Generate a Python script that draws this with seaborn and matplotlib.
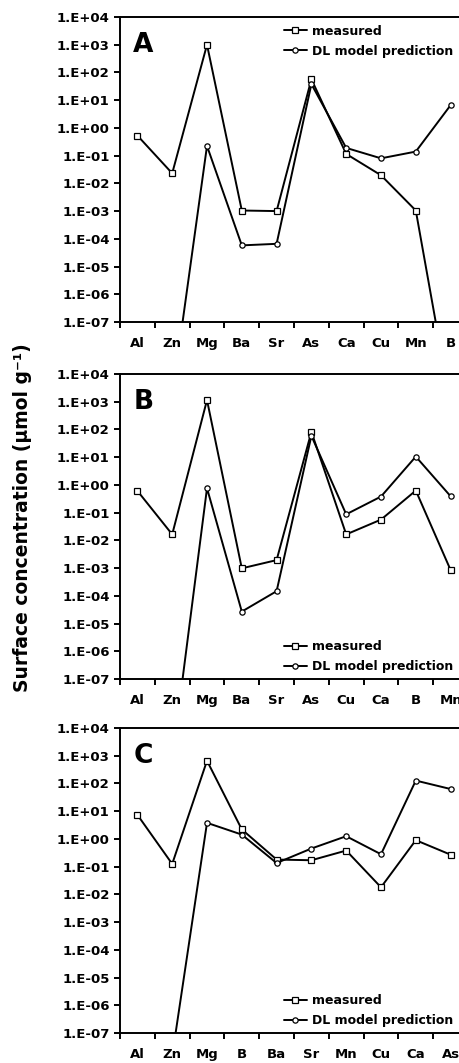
import numpy as np
import pandas as pd
import matplotlib
matplotlib.use("Agg")
import matplotlib.pyplot as plt
import seaborn as sns

# ---------------- data ----------------
cats_A = ["Al", "Zn", "Mg", "Ba", "Sr", "As", "Ca", "Cu", "Mn", "B"]
meas_A = [0.53, 0.023, 1000, 1.05e-3, 1.0e-3, 57, 0.115, 0.0196, 1.05e-3, 1e-10]
dl_A = [np.nan, 2e-10, 0.224, 5.8e-5, 6.6e-5, 38, 0.19, 0.08, 0.14, 6.6]

cats_B = ["Al", "Zn", "Mg", "Ba", "Sr", "As", "Cu", "Ca", "B", "Mn"]
meas_B = [0.61, 0.0164, 1150, 9.8e-4, 1.94e-3, 82, 0.0164, 0.056, 0.625, 8.5e-4]
dl_B = [np.nan, 1.2e-10, 0.76, 2.7e-5, 1.47e-4, 59, 0.087, 0.38, 10.5, 0.39]

cats_C = ["Al", "Zn", "Mg", "B", "Ba", "Sr", "Mn", "Cu", "Ca", "As"]
meas_C = [7.4, 0.125, 660, 2.2, 0.18, 0.17, 0.38, 0.018, 0.9, 0.27]
dl_C = [np.nan, 1.5e-8, 3.8, 1.43, 0.135, 0.45, 1.25, 0.28, 127, 63]

panel_letters = ["A", "B", "C"]
series_names = ["measured", "DL model prediction"]
ytick_vals = [1e4, 1e3, 1e2, 1e1, 1e0, 1e-1, 1e-2, 1e-3, 1e-4, 1e-5, 1e-6, 1e-7]
ytick_labels = ["1.E+04", "1.E+03", "1.E+02", "1.E+01", "1.E+00", "1.E-01",
                "1.E-02", "1.E-03", "1.E-04", "1.E-05", "1.E-06", "1.E-07"]
ylabel = "Surface concentration (\u03bcmol g\u207b\u00b9)"

# ---------------- style ----------------
sns.set_style("ticks")
plt.rcParams["font.family"] = ["DejaVu Sans"]
plt.rcParams["font.weight"] = "bold"
for k in ["text.color", "xtick.color", "ytick.color", "axes.labelcolor", "axes.edgecolor"]:
    plt.rcParams[k] = "black"

W, H = 459, 1063
fig = plt.figure(figsize=(W / 100, H / 100), dpi=100)

left_px, right_px = 120, 468
panel_px = [(17, 322), (374, 679), (728, 1033)]
legend_loc = ["upper", "lower", "lower"]

panels = [(cats_A, meas_A, dl_A), (cats_B, meas_B, dl_B), (cats_C, meas_C, dl_C)]

for i, ((cats, meas, dl), (top, bot)) in enumerate(zip(panels, panel_px)):
    ax = fig.add_axes([left_px / W, 1 - bot / H, (right_px - left_px) / W, (bot - top) / H])
    x = np.arange(len(cats))
    df = pd.DataFrame({"x": x, "measured": meas, "dl": dl})
    sns.lineplot(data=df, x="x", y="measured", ax=ax, color="black", linewidth=1.4,
                 marker="s", markersize=4.6, markerfacecolor="white",
                 markeredgecolor="black", markeredgewidth=0.9, label=series_names[0])
    sns.lineplot(data=df.dropna(), x="x", y="dl", ax=ax, color="black", linewidth=1.4,
                 marker="o", markersize=3.8, markerfacecolor="white",
                 markeredgecolor="black", markeredgewidth=0.9, label=series_names[1])
    ax.set_yscale("log")
    ax.set_ylim(1e-7, 1e4)
    ax.set_xlim(-0.5, len(cats) - 0.5)
    ax.set_yticks(ytick_vals)
    ax.set_yticklabels(ytick_labels)
    ax.yaxis.set_minor_locator(matplotlib.ticker.NullLocator())
    ax.set_xticks(np.arange(len(cats) + 1) - 0.5)
    ax.set_xticklabels([])
    ax.set_xticks(x, minor=True)
    ax.set_xticklabels(cats, minor=True)
    ax.tick_params(axis="x", which="major", length=4.5, width=1.4, direction="out")
    ax.tick_params(axis="x", which="minor", length=0, pad=11, labelsize=9.5)
    ax.tick_params(axis="y", which="major", length=4.5, width=1.4, labelsize=9.5, pad=3)
    for lab in ax.get_xticklabels(minor=True) + ax.get_yticklabels():
        lab.set_fontweight("bold")
    for s in ["left", "bottom", "top"]:
        ax.spines[s].set_linewidth(1.4)
        ax.spines[s].set_color("black")
    ax.spines["right"].set_visible(False)
    ax.set_xlabel("")
    ax.set_ylabel("")
    ax.text(0.038, 0.95, panel_letters[i], transform=ax.transAxes, fontsize=19,
            fontweight="bold", ha="left", va="top")
    if legend_loc[i] == "upper":
        leg = ax.legend(loc="upper left", bbox_to_anchor=(0.47, 0.975), frameon=False,
                        prop={"size": 9, "weight": "bold"}, handlelength=1.9,
                        handletextpad=0.4, labelspacing=0.55, borderpad=0, borderaxespad=0)
    else:
        leg = ax.legend(loc="lower left", bbox_to_anchor=(0.47, 0.02), frameon=False,
                        prop={"size": 9, "weight": "bold"}, handlelength=1.9,
                        handletextpad=0.4, labelspacing=0.55, borderpad=0, borderaxespad=0)

fig.text(0.048, 1 - 518 / H, ylabel, rotation=90, ha="center", va="center",
         fontsize=13.5, fontweight="bold")

fig.savefig("out.png", dpi=100)
